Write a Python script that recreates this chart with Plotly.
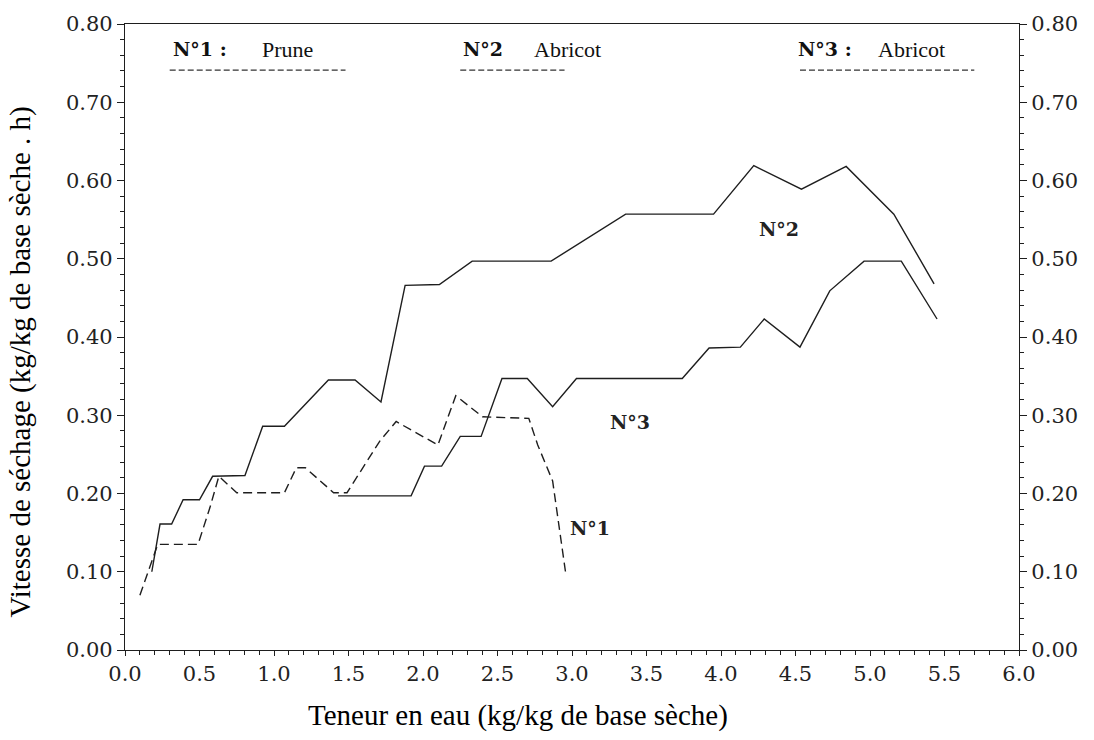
import plotly.graph_objects as go

# N°1 : Prune (dashed)
x1 = [0.10, 0.22, 0.49, 0.57, 0.63, 0.75, 1.07, 1.15, 1.21, 1.40, 1.49, 1.71, 1.82, 2.10, 2.22, 2.40, 2.71, 2.77, 2.87, 2.96]
y1 = [0.070, 0.135, 0.135, 0.182, 0.222, 0.201, 0.201, 0.233, 0.233, 0.201, 0.201, 0.267, 0.292, 0.262, 0.325, 0.298, 0.296, 0.262, 0.216, 0.095]

# N°2 : Abricot (solid, upper)
x2 = [0.18, 0.235, 0.313, 0.39, 0.50, 0.588, 0.805, 0.924, 1.07, 1.365, 1.544, 1.718, 1.88, 2.11, 2.33, 2.86, 3.36, 3.95, 4.22, 4.54, 4.84, 5.16, 5.43]
y2 = [0.100, 0.161, 0.161, 0.192, 0.192, 0.222, 0.223, 0.286, 0.286, 0.345, 0.345, 0.317, 0.466, 0.467, 0.497, 0.497, 0.557, 0.557, 0.619, 0.589, 0.618, 0.557, 0.468]

# N°3 : Abricot (solid, lower)
x3 = [1.43, 1.92, 2.01, 2.125, 2.25, 2.39, 2.53, 2.70, 2.87, 3.03, 3.74, 3.92, 4.13, 4.29, 4.53, 4.73, 4.96, 5.21, 5.45]
y3 = [0.197, 0.197, 0.235, 0.235, 0.273, 0.273, 0.347, 0.347, 0.311, 0.347, 0.347, 0.386, 0.387, 0.423, 0.387, 0.459, 0.497, 0.497, 0.423]

x_ticks = [0.0, 0.5, 1.0, 1.5, 2.0, 2.5, 3.0, 3.5, 4.0, 4.5, 5.0, 5.5, 6.0]
y_ticks = [0.0, 0.1, 0.2, 0.3, 0.4, 0.5, 0.6, 0.7, 0.8]

INK = "#1e1e1e"
TICKFONT = dict(family="DejaVu Serif", size=21, color="#222")
SERIF = "Liberation Serif"

fig = go.Figure()
fig.add_trace(go.Scatter(x=x1, y=y1, mode="lines", line=dict(color=INK, width=1.4, dash="9px,5px"), showlegend=False))
fig.add_trace(go.Scatter(x=x2, y=y2, mode="lines", line=dict(color=INK, width=1.4), showlegend=False))
fig.add_trace(go.Scatter(x=x3, y=y3, mode="lines", line=dict(color=INK, width=1.4), showlegend=False))
# anchor for the right-hand axis
fig.add_trace(go.Scatter(x=[None], y=[None], yaxis="y2", mode="lines", showlegend=False, hoverinfo="skip"))

fig.update_layout(
    width=1094, height=740,
    margin=dict(l=125, r=75, t=20, b=90),
    paper_bgcolor="white", plot_bgcolor="white",
    xaxis=dict(range=[0, 6], tickvals=x_ticks, ticktext=[f"{v:.1f}" for v in x_ticks],
               showgrid=False, zeroline=False, showline=True, linecolor=INK, linewidth=1.3,
               mirror=True, ticks="outside", ticklen=5, tickcolor=INK, tickfont=TICKFONT,
               minor=dict(dtick=0.1, ticks="outside", ticklen=4, tickcolor=INK)),
    yaxis=dict(range=[0, 0.8], tickvals=y_ticks, ticktext=[f"{v:.2f}" for v in y_ticks],
               showgrid=False, zeroline=False, showline=True, linecolor=INK, linewidth=1.3,
               ticks="outside", ticklen=7, tickcolor=INK, tickfont=TICKFONT,
               minor=dict(dtick=0.02, ticks="outside", ticklen=4, tickcolor=INK)),
    yaxis2=dict(range=[0, 0.8], overlaying="y", side="right", tickvals=y_ticks,
                ticktext=[f"{v:.2f}" for v in y_ticks],
                showgrid=False, zeroline=False, showline=True, linecolor=INK, linewidth=1.3,
                ticks="outside", ticklen=7, tickcolor=INK, tickfont=TICKFONT,
                minor=dict(dtick=0.02, ticks="outside", ticklen=4, tickcolor=INK)),
)

ann = []
# axis titles
ann.append(dict(text="Teneur en eau (kg/kg de base sèche)", xref="paper", yref="paper",
                x=0.44, y=-0.105, xanchor="center", yanchor="middle", showarrow=False,
                font=dict(family=SERIF, size=29, color="black")))
ann.append(dict(text="Vitesse de séchage (kg/kg de base sèche . h)", xref="paper", yref="paper",
                x=-0.117, y=0.46, xanchor="center", yanchor="middle", textangle=-90, showarrow=False,
                font=dict(family=SERIF, size=29, color="black")))
# series labels inside the plot
for txt, xx, yy in [("N°2", 4.39, 0.538), ("N°3", 3.39, 0.292), ("N°1", 3.12, 0.156)]:
    ann.append(dict(text=f"<b>{txt}</b>", x=xx, y=yy, xref="x", yref="y", showarrow=False,
                    font=dict(family="DejaVu Serif", size=19, color="#222")))
# header key
for txt, xx, bold in [("N°1 :", 0.50, True), ("Prune", 1.09, False), ("N°2", 2.40, True),
                      ("Abricot", 2.97, False), ("N°3 :", 4.70, True), ("Abricot", 5.28, False)]:
    ann.append(dict(text=f"<b>{txt}</b>" if bold else txt, x=xx, y=0.768, xref="x", yref="y",
                    showarrow=False,
                    font=dict(family="DejaVu Serif" if bold else SERIF, size=19 if bold else 22, color="#111")))
fig.update_layout(annotations=ann)

for a, b in [(0.30, 1.48), (2.25, 2.95), (4.53, 5.70)]:
    fig.add_shape(type="line", x0=a, x1=b, y0=0.741, y1=0.741, xref="x", yref="y",
                  line=dict(color="#333", width=1.3, dash="6px,3px"))

fig.write_html("out.html")
